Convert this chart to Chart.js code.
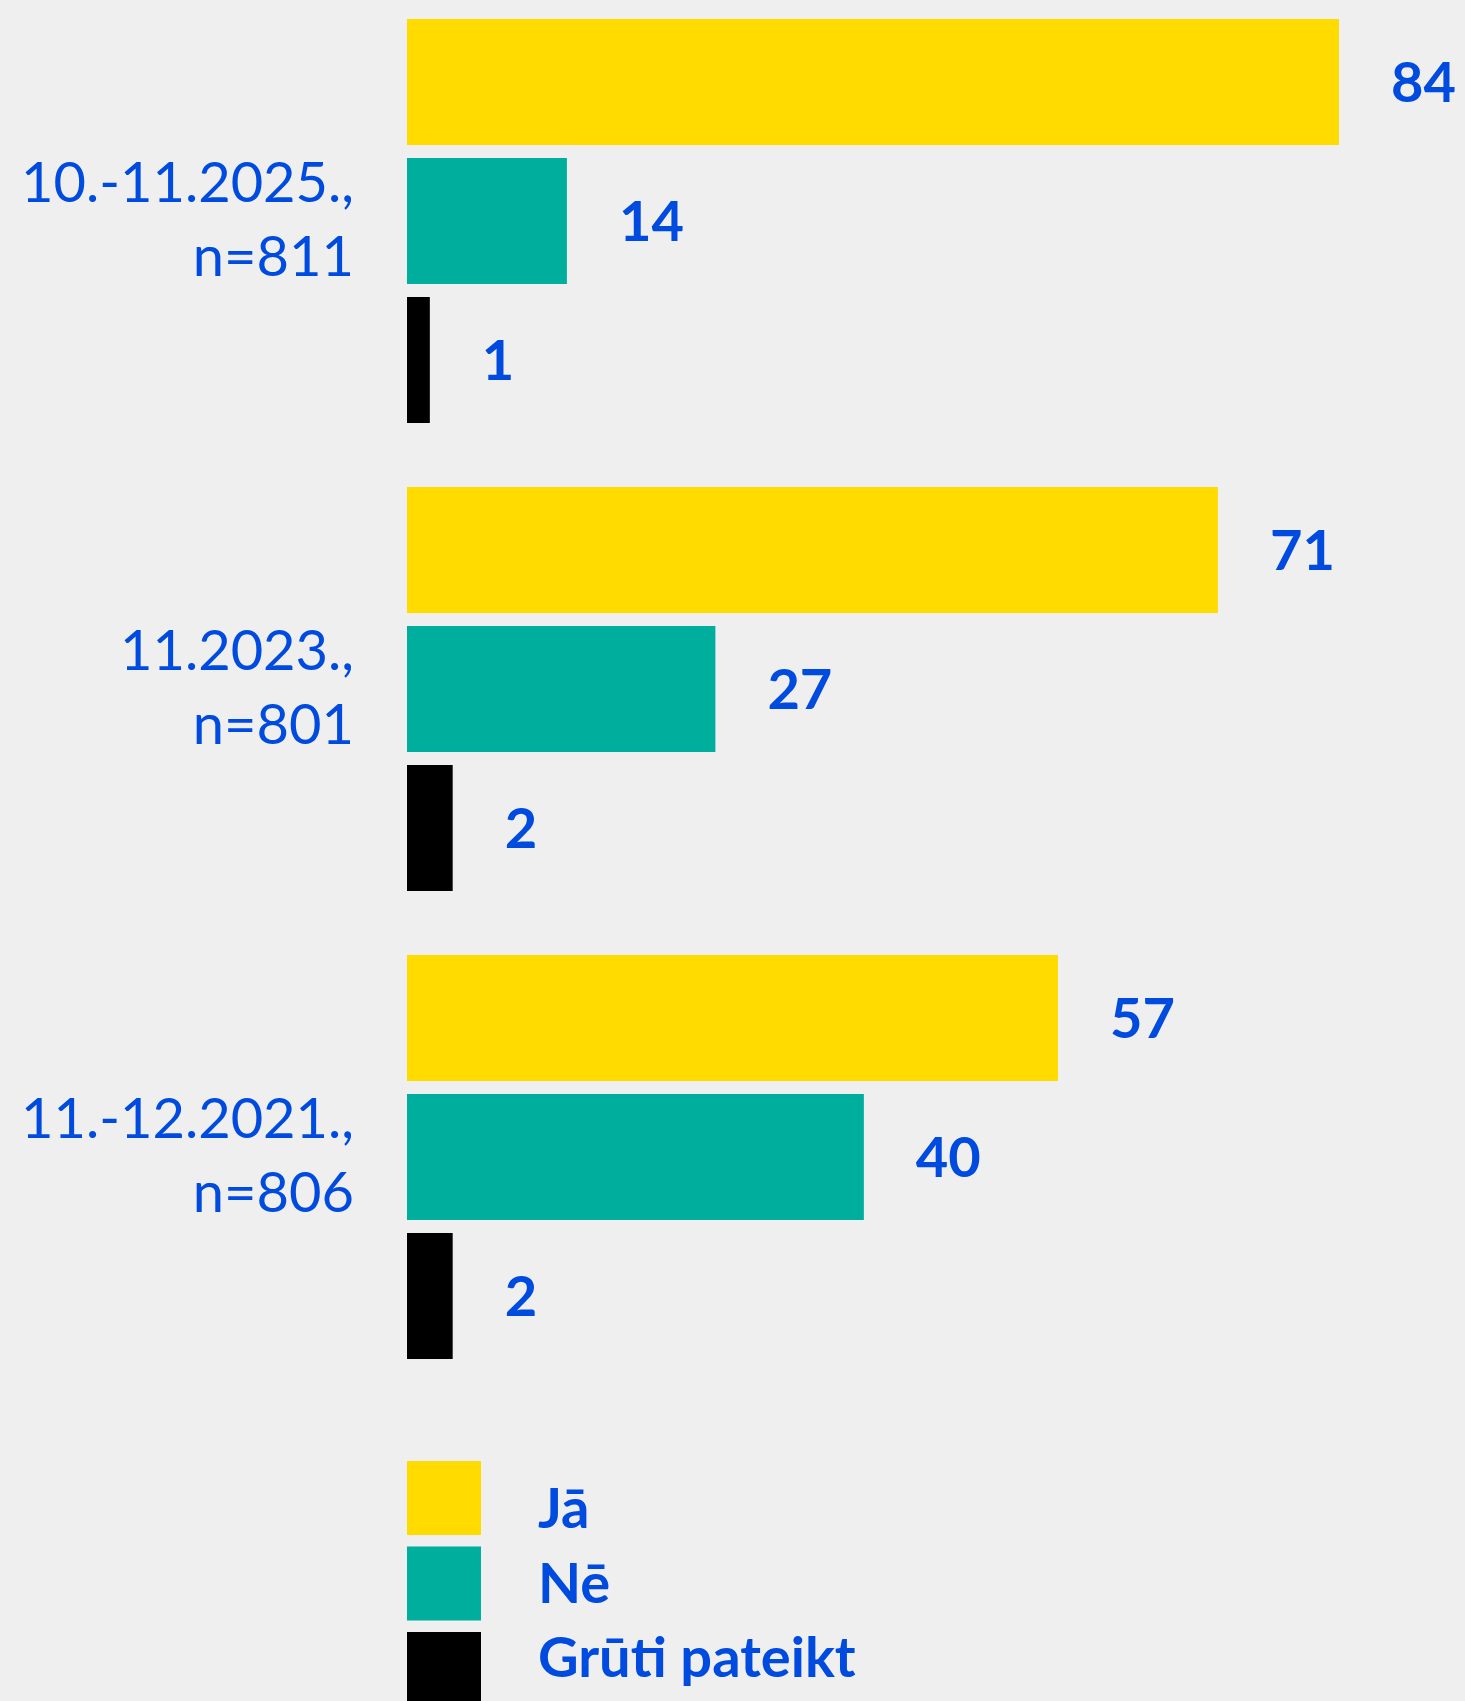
<!DOCTYPE html>
<html>
<head>
<meta charset="utf-8">
<script src="https://cdn.jsdelivr.net/npm/chart.js@4"></script>
<style>
  html, body { margin: 0; padding: 0; background: #efefef; overflow: hidden; }
  body { width: 1465px; height: 1701px; position: relative; }
  #wrap { position: absolute; left: 0; top: -13px; width: 1465px; height: 1714px; }
</style>
</head>
<body>
<div id="wrap"><canvas id="c"></canvas></div>
<script>
// ---- data ----
const categories = [["10.-11.2025.,", "n=811"], ["11.2023.,", "n=801"], ["11.-12.2021.,", "n=806"]];
const seriesNames = ["Jā", "Nē", "Grūti pateikt"];
const jaValues = [84, 71, 57];
const neValues = [14, 27, 40];
const grutiValues = [1, 2, 2];
const seriesColors = ["#FFDB00", "#00AE9D", "#000000"];

const BLUE = "#004BDF";
const FONT = "Lato";

const valueLabels = {
  id: "valueLabels",
  afterDatasetsDraw(chart) {
    const ctx = chart.ctx;
    const area = chart.chartArea;
    ctx.save();
    ctx.font = "bold 56px " + FONT;
    ctx.fillStyle = BLUE;
    ctx.textAlign = "left";
    ctx.textBaseline = "middle";
    chart.data.datasets.forEach((ds, di) => {
      const meta = chart.getDatasetMeta(di);
      meta.data.forEach((el, i) => {
        const x = Math.min(el.x, area.right) + 52;
        ctx.fillText(String(ds.data[i]), x, el.y + 2);
      });
    });
    ctx.restore();
  }
};

const customLegend = {
  id: "customLegend",
  afterDraw(chart) {
    const ctx = chart.ctx;
    const left = chart.chartArea.left;
    ctx.save();
    chart.data.datasets.forEach((ds, i) => {
      const boxTop = 1461 + 13 + i * 85.5;
      ctx.fillStyle = ds.backgroundColor;
      ctx.fillRect(left, boxTop, 74, 74);
      ctx.font = "bold 56px " + FONT;
      ctx.fillStyle = BLUE;
      ctx.textAlign = "left";
      ctx.textBaseline = "alphabetic";
      ctx.fillText(ds.label, left + 131, 1528 + 13 + i * 74.5);
    });
    ctx.restore();
  }
};

function build() {
  new Chart(document.getElementById("c"), {
    type: "bar",
    data: {
      labels: categories,
      datasets: [
        { label: seriesNames[0], data: jaValues, backgroundColor: seriesColors[0], xAxisID: "x", clip: 0 },
        { label: seriesNames[1], data: neValues, backgroundColor: seriesColors[1], xAxisID: "x", clip: 0 },
        { label: seriesNames[2], data: grutiValues, backgroundColor: seriesColors[2], xAxisID: "x2", clip: 0 }
      ]
    },
    options: {
      indexAxis: "y",
      responsive: true,
      maintainAspectRatio: false,
      animation: false,
      categoryPercentage: 0.891,
      barPercentage: 0.9065,
      layout: { padding: { top: 0, bottom: 310, left: 0, right: 126 } },
      plugins: { legend: { display: false }, tooltip: { enabled: false } },
      scales: {
        x: { display: false, min: 0, max: 81.6 },
        x2: { display: false, min: 0, max: 40.8 },
        y: {
          grid: { display: false, drawTicks: false },
          border: { display: false },
          afterFit(scale) {
            scale.width = 407;
            scale.paddingTop = 0;
            scale.paddingBottom = 0;
          },
          ticks: {
            color: BLUE,
            padding: 53,
            font: { family: FONT, size: 56, weight: "normal", lineHeight: 1.32 }
          }
        }
      }
    },
    plugins: [valueLabels, customLegend]
  });
}

Promise.all([
  document.fonts.load("56px Lato"),
  document.fonts.load("bold 56px Lato")
]).then(build, build);
</script>
</body>
</html>
